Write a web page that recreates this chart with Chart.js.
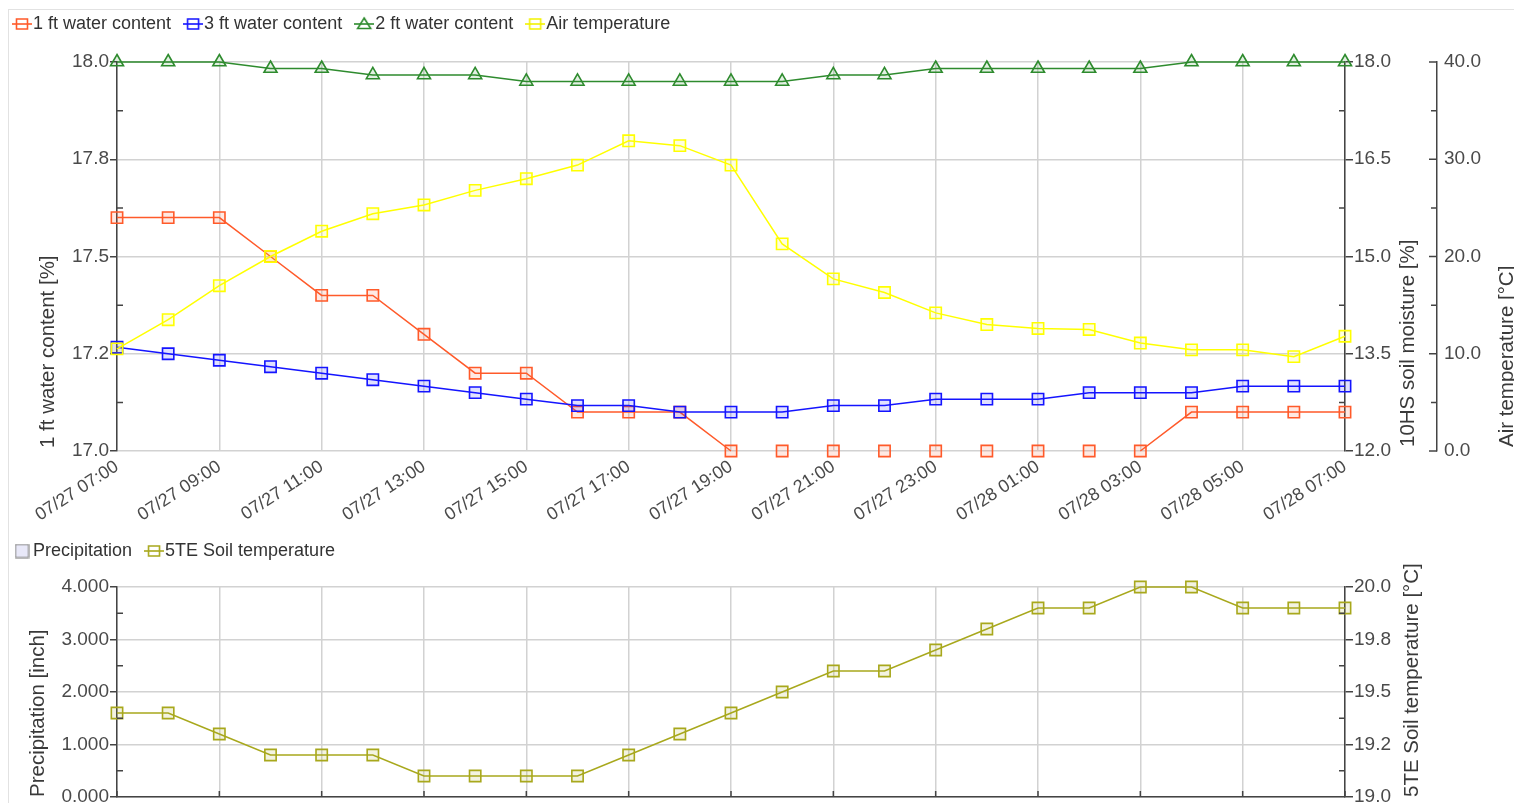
<!DOCTYPE html>
<html><head><meta charset="utf-8">
<script src="https://cdn.jsdelivr.net/npm/chart.js@4"></script>
<style>
html,body{margin:0;padding:0;background:#fff;overflow:hidden;width:1514px;height:803px;}
#frame{position:absolute;left:8px;top:9px;width:1530px;height:900px;border-left:1px solid #e2e2e2;border-top:1px solid #e2e2e2;}
#c1{position:absolute;left:0;top:0;}
#c2{position:absolute;left:0;top:527px;}
</style></head><body>
<div id="frame"></div>
<canvas id="c1" width="1514" height="535"></canvas>
<canvas id="c2" width="1514" height="360"></canvas>
<script>
// ---------- data ----------
const categories = ['07/27 07:00','07/27 08:00','07/27 09:00','07/27 10:00','07/27 11:00','07/27 12:00','07/27 13:00','07/27 14:00','07/27 15:00','07/27 16:00','07/27 17:00','07/27 18:00','07/27 19:00','07/27 20:00','07/27 21:00','07/27 22:00','07/27 23:00','07/28 00:00','07/28 01:00','07/28 02:00','07/28 03:00','07/28 04:00','07/28 05:00','07/28 06:00','07/28 07:00'];
const water1ft = [17.6,17.6,17.6,17.5,17.4,17.4,17.3,17.2,17.2,17.1,17.1,17.1,17.0,17.0,17.0,17.0,17.0,17.0,17.0,17.0,17.0,17.1,17.1,17.1,17.1];
const water3ft = [13.6,13.5,13.4,13.3,13.2,13.1,13.0,12.9,12.8,12.7,12.7,12.6,12.6,12.6,12.7,12.7,12.8,12.8,12.8,12.9,12.9,12.9,13.0,13.0,13.0];
const water2ft = [18.0,18.0,18.0,17.9,17.9,17.8,17.8,17.8,17.7,17.7,17.7,17.7,17.7,17.7,17.8,17.8,17.9,17.9,17.9,17.9,17.9,18.0,18.0,18.0,18.0];
const airTemp = [10.5,13.5,17.0,20.0,22.6,24.4,25.3,26.8,28.0,29.4,31.9,31.4,29.4,21.3,17.7,16.3,14.2,13.0,12.6,12.5,11.1,10.4,10.4,9.7,11.8];
const precipitation = [0,0,0,0,0,0,0,0,0,0,0,0,0,0,0,0,0,0,0,0,0,0,0,0,0];
const soilTemp5TE = [19.4,19.4,19.3,19.2,19.2,19.2,19.1,19.1,19.1,19.1,19.2,19.3,19.4,19.5,19.6,19.6,19.7,19.8,19.9,19.9,20.0,20.0,19.9,19.9,19.9];

const waterTicks = [17.0,17.25,17.5,17.75,18.0];
const waterTickLabels = ['17.0','17.2','17.5','17.8','18.0'];
const soilMoistTicks = [12.0,13.5,15.0,16.5,18.0];
const soilMoistTickLabels = ['12.0','13.5','15.0','16.5','18.0'];
const airTicks = [0,10,20,30,40];
const airTickLabels = ['0.0','10.0','20.0','30.0','40.0'];
const precipTicks = [0,1,2,3,4];
const precipTickLabels = ['0.000','1.000','2.000','3.000','4.000'];
const soilTempTicks = [19.0,19.25,19.5,19.75,20.0];
const soilTempTickLabels = ['19.0','19.2','19.5','19.8','20.0'];

// ---------- styles ----------
const FONT = 'Liberation Sans, Arial, sans-serif';
const tickFont = {family: FONT, size: 19};
const xTickFont = {family: FONT, size: 18};
const tickColor = '#4a4a4a';
const gridColor = '#d2d2d2';
const axisColor = '#444';
const C_ORANGE = '#ff5a2a', C_BLUE = '#1414ff', C_GREEN = '#2e8b2e', C_YELLOW = '#ffff00', C_OLIVE = '#a8a81c';

function mids(arr){ const r=[]; for(let i=0;i<arr.length-1;i++) r.push((arr[i]+arr[i+1])/2); return r; }
const evenIdx = categories.map((_,i)=>i).filter(i=>i%2===0);

function lineIcon(color, shape){
  const c = document.createElement('canvas'); c.width = 20; c.height = 16;
  const g = c.getContext('2d'); g.strokeStyle = color; g.lineWidth = 1.6;
  g.beginPath(); g.moveTo(0,8); g.lineTo(20,8); g.stroke();
  g.beginPath();
  if (shape === 'tri') { g.moveTo(10,2); g.lineTo(16.5,12.5); g.lineTo(3.5,12.5); g.closePath(); }
  else { g.rect(4.5,3,11,10); }
  g.stroke();
  return c;
}
function boxIcon(){
  const c = document.createElement('canvas'); c.width = 15; c.height = 15;
  const g = c.getContext('2d'); g.fillStyle = '#e8e8f8'; g.fillRect(1,1,13,13);
  g.strokeStyle = '#8a8a8a'; g.lineWidth = 1.2; g.strokeRect(1,1,13,13);
  return c;
}

const legendHeight = {
  id: 'legendHeight',
  beforeLayout(chart, args, opts){
    const lg = chart.legend;
    if (lg && !lg._patched){ const f = lg.fit; lg.fit = function(){ f.call(this); this.height = opts.height; }; lg._patched = true; }
  }
};
const innerTicks = {
  id: 'innerTicks',
  afterDraw(chart, args, opts){
    const ctx = chart.ctx;
    (opts.marks||[]).forEach(m => {
      const s = chart.scales[m.scale];
      ctx.save(); ctx.strokeStyle = axisColor; ctx.lineWidth = 1.5; ctx.beginPath();
      m.values.forEach(v => {
        const p = s.getPixelForValue(v);
        if (s.isHorizontal()) { ctx.moveTo(p, s.top); ctx.lineTo(p, s.top - m.len); }
        else { const x0 = s.position === 'left' ? s.right : s.left; ctx.moveTo(x0, p); ctx.lineTo(x0 + m.dir*m.len, p); }
      });
      ctx.stroke(); ctx.restore();
    });
  }
};
const sideTitles = {
  id: 'sideTitles',
  afterDraw(chart, args, opts){
    const ctx = chart.ctx;
    (opts.items||[]).forEach(t => {
      const s = chart.scales[t.scale];
      ctx.save();
      ctx.translate(s.left + t.dx, chart.chartArea.bottom - (t.up||0));
      ctx.rotate(-Math.PI/2);
      ctx.font = '20.5px ' + FONT; ctx.fillStyle = '#3a3a3a';
      ctx.textAlign = 'left'; ctx.textBaseline = 'middle';
      ctx.fillText(t.text, 0, 0);
      ctx.restore();
    });
  }
};

function legendOpts(icons){
  return {
    position: 'top', align: 'start',
    labels: {
      usePointStyle: true, pointStyleWidth: 4, padding: 20,
      font: {family: FONT, size: 18}, color: '#333',
      sort: (a,b) => a.datasetIndex - b.datasetIndex,
      generateLabels(chart){
        const items = Chart.defaults.plugins.legend.labels.generateLabels(chart);
        items.forEach(it => { it.pointStyle = icons[it.datasetIndex]; it.fontColor = '#333'; });
        return items;
      }
    }
  };
}
function xScale(height, border){
  return {
    type: 'category', offset: false,
    grid: {offset: false, color: c => (c.index % 2 === 0 ? gridColor : 'rgba(0,0,0,0)'), lineWidth: 1.5, drawTicks: false},
    border: border ? {display: true, color: axisColor, width: 1.5} : {display: false},
    ticks: {autoSkip: false, maxRotation: 33, minRotation: 33, padding: 5, color: tickColor, font: xTickFont,
      callback(v, i){ return i % 2 === 0 ? categories[i] : ''; }},
    afterFit(s){ s.height = height; }
  };
}
function yScale(pos, min, max, ticks, labels, width, opt){
  return {
    type: 'linear', position: pos, min, max,
    afterBuildTicks(s){ s.ticks = ticks.map(v => ({value: v})); },
    ticks: {callback: (v, i) => labels[i], color: tickColor, font: tickFont, padding: opt.padding},
    grid: {color: gridColor, lineWidth: 1.5, drawOnChartArea: !!opt.onArea, drawTicks: opt.drawTicks !== false,
           tickLength: opt.tickLength || 7, tickColor: axisColor, tickWidth: 1.5},
    border: {display: true, color: axisColor, width: 1.5},
    afterFit(s){ s.width = width; }
  };
}
function lineDs(label, data, axis, color, style, order){
  return {
    type: 'line', label, data, yAxisID: axis, order,
    borderColor: color, borderWidth: 1.5, backgroundColor: color + '26',
    pointStyle: style, pointRadius: style === 'triangle' ? 7.5 : 8, pointBorderWidth: 1.6,
    pointBackgroundColor: color + '22', pointBorderColor: color, tension: 0, clip: false
  };
}

// ---------- top chart ----------
const ds1 = lineDs('1 ft water content', water1ft, 'y', C_ORANGE, 'rect', 3);
ds1.segment = {borderColor: c => (c.p0.parsed.y <= 17 && c.p1.parsed.y <= 17) ? 'rgba(0,0,0,0)' : undefined};
new Chart(document.getElementById('c1'), {
  type: 'line',
  data: {labels: categories, datasets: [
    ds1,
    lineDs('3 ft water content', water3ft, 'y1', C_BLUE, 'rect', 2),
    lineDs('2 ft water content', water2ft, 'y1', C_GREEN, 'triangle', 1),
    lineDs('Air temperature', airTemp, 'y2', C_YELLOW, 'rect', 0)
  ]},
  options: {
    responsive: false, animation: false, devicePixelRatio: 1,
    layout: {padding: {top: -5, left: 0, right: 0, bottom: 0}},
    plugins: {
      legend: legendOpts([lineIcon(C_ORANGE), lineIcon(C_BLUE), lineIcon(C_GREEN,'tri'), lineIcon('#f2f200')]),
      legendHeight: {height: 67},
      tooltip: {enabled: false},
      innerTicks: {marks: [
        {scale: 'y', values: mids(waterTicks), len: 6, dir: 1},
        {scale: 'y1', values: mids(soilMoistTicks), len: 6, dir: -1},
        {scale: 'y2', values: airTicks, len: 8, dir: -1},
        {scale: 'y2', values: mids(airTicks), len: 6, dir: -1}
      ]},
      sideTitles: {items: [
        {scale: 'y', text: '1 ft water content [%]', dx: 48, up: 3},
        {scale: 'y1', text: '10HS soil moisture [%]', dx: 63, up: 4},
        {scale: 'y2', text: 'Air temperature [°C]', dx: 70, up: 4}
      ]}
    },
    scales: {
      x: xScale(84, false),
      y: yScale('left', 17, 18, waterTicks, waterTickLabels, 117, {onArea: true, tickLength: 7, padding: 1}),
      y1: yScale('right', 12, 18, soilMoistTicks, soilMoistTickLabels, 92, {tickLength: 8, padding: 1}),
      y2: yScale('right', 0, 40, airTicks, airTickLabels, 77, {drawTicks: false, padding: 7})
    }
  },
  plugins: [legendHeight, innerTicks, sideTitles]
});

// ---------- bottom chart ----------
new Chart(document.getElementById('c2'), {
  type: 'line',
  data: {labels: categories, datasets: [
    {type: 'bar', label: 'Precipitation', data: precipitation, yAxisID: 'yp', backgroundColor: '#e8e8f8', borderWidth: 0, order: 1},
    lineDs('5TE Soil temperature', soilTemp5TE, 'ys', C_OLIVE, 'rect', 0)
  ]},
  options: {
    responsive: false, animation: false, devicePixelRatio: 1,
    layout: {padding: {top: -5, left: 0, right: 0, bottom: 0}},
    plugins: {
      legend: legendOpts([boxIcon(), lineIcon(C_OLIVE)]),
      legendHeight: {height: 65},
      tooltip: {enabled: false},
      innerTicks: {marks: [
        {scale: 'yp', values: mids(precipTicks), len: 6, dir: 1},
        {scale: 'ys', values: mids(soilTempTicks), len: 6, dir: -1},
        {scale: 'x', values: evenIdx, len: 6}
      ]},
      sideTitles: {items: [
        {scale: 'yp', text: 'Precipitation [inch]', dx: 38, up: 0},
        {scale: 'ys', text: '5TE Soil temperature [°C]', dx: 67, up: 0}
      ]}
    },
    scales: {
      x: xScale(90, true),
      yp: yScale('left', 0, 4, precipTicks, precipTickLabels, 117, {onArea: true, tickLength: 7, padding: 1}),
      ys: yScale('right', 19, 20, soilTempTicks, soilTempTickLabels, 169, {tickLength: 8, padding: 1})
    }
  },
  plugins: [legendHeight, innerTicks, sideTitles]
});
</script>
</body></html>
